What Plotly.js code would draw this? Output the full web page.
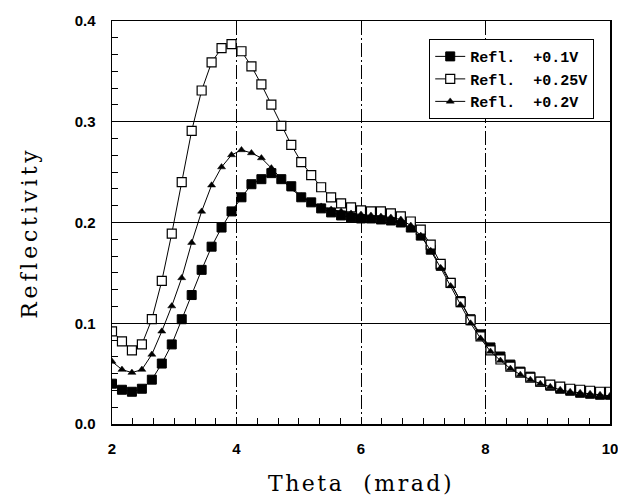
<!DOCTYPE html>
<html>
<head>
<meta charset="utf-8">
<script src="https://cdn.plot.ly/plotly-3.0.1.min.js"></script>
<style>
  body { margin: 0; background: #fff; }
  #chart { width: 618px; height: 496px; }
  .g-xtitle text { letter-spacing: 2.5px; }
  .annotation-text { letter-spacing: 3.8px; }
</style>
</head>
<body>
<div id="chart"></div>
<script>
// Theta (mrad) sample positions, 51 points from 2 to 10
const theta = [2.00,2.16,2.32,2.48,2.64,2.80,2.96,3.12,3.28,3.44,
               3.60,3.76,3.92,4.08,4.24,4.40,4.56,4.72,4.88,5.04,
               5.20,5.36,5.52,5.68,5.84,6.00,6.16,6.32,6.48,6.64,
               6.80,6.96,7.12,7.28,7.44,7.60,7.76,7.92,8.08,8.24,
               8.40,8.56,8.72,8.88,9.04,9.20,9.36,9.52,9.68,9.84,10.00];

// Refl. +0.1V (filled squares)
const refl01 = [0.040,0.034,0.032,0.035,0.044,0.060,0.079,0.104,0.128,0.153,
                0.176,0.195,0.211,0.225,0.238,0.243,0.249,0.243,0.236,0.225,
                0.220,0.214,0.210,0.207,0.205,0.204,0.204,0.203,0.202,0.200,
                0.195,0.187,0.173,0.157,0.140,0.122,0.104,0.089,0.076,0.067,
                0.059,0.052,0.047,0.042,0.038,0.035,0.033,0.031,0.030,0.029,0.029];

// Refl. +0.25V (open squares)
const refl025 = [0.092,0.082,0.073,0.079,0.104,0.142,0.189,0.240,0.291,0.331,
                 0.359,0.373,0.377,0.370,0.355,0.337,0.317,0.296,0.277,0.260,
                 0.247,0.235,0.225,0.219,0.215,0.212,0.211,0.211,0.209,0.206,
                 0.201,0.193,0.178,0.159,0.140,0.121,0.103,0.087,0.073,0.064,
                 0.057,0.051,0.046,0.042,0.039,0.037,0.035,0.034,0.033,0.032,0.032];

// Refl. +0.2V (triangles)
const refl02 = [0.062,0.054,0.051,0.054,0.069,0.092,0.117,0.145,0.180,0.211,
                0.237,0.255,0.267,0.272,0.269,0.264,0.254,0.243,0.233,0.226,
                0.220,0.216,0.213,0.211,0.209,0.208,0.207,0.206,0.205,0.203,
                0.197,0.187,0.172,0.155,0.137,0.118,0.100,0.085,0.072,0.063,
                0.055,0.049,0.044,0.040,0.037,0.034,0.032,0.031,0.030,0.029,0.028];

const seriesNames = ['Refl.\u00a0\u00a0+0.1V', 'Refl.\u00a0\u00a0+0.25V', 'Refl.\u00a0\u00a0+0.2V'];
const xTicks = [2, 4, 6, 8, 10];
const yTicks = [0.0, 0.1, 0.2, 0.3, 0.4];
const xTitle = 'Theta\u00a0\u00a0(mrad)';
const yTitle = 'Reflectivity';

const lineStyle = {color: '#000', width: 1};

const traces = [
  {x: theta, y: refl01, name: seriesNames[0], mode: 'lines+markers', type: 'scatter',
   line: lineStyle,
   marker: {symbol: 'square', size: 9, color: '#000', line: {color: '#000', width: 1}}},
  {x: theta, y: refl025, name: seriesNames[1], mode: 'lines+markers', type: 'scatter',
   line: lineStyle,
   marker: {symbol: 'square', size: 9, color: '#fff', line: {color: '#000', width: 1.2}}},
  {x: theta, y: refl02, name: seriesNames[2], mode: 'lines+markers', type: 'scatter',
   line: lineStyle,
   marker: {symbol: 'triangle-up', size: 7, color: '#000', line: {color: '#000', width: 0.5}}}
];

const tickFont = {family: '"Liberation Sans", Arial, sans-serif', size: 15, color: '#000', weight: 'bold'};
const titleFont = {family: '"DejaVu Serif", "Liberation Serif", serif', size: 22, color: '#000'};

const layout = {
  width: 618, height: 496,
  margin: {l: 112, r: 8, t: 21, b: 72},
  paper_bgcolor: '#fff', plot_bgcolor: '#fff',
  showlegend: true,
  legend: {
    x: 0.637, y: 0.955, xanchor: 'left', yanchor: 'top',
    bgcolor: '#fff', bordercolor: '#000', borderwidth: 1,
    font: {family: '"Liberation Mono", "DejaVu Sans Mono", monospace', size: 15, color: '#000', weight: 'bold'},
    tracegroupgap: 0, itemwidth: 30
  },
  xaxis: {
    range: [2, 10], tickvals: xTicks, ticktext: xTicks.map(String),
    showline: true, mirror: true, linecolor: '#000', linewidth: 1.5,
    showgrid: true, gridcolor: '#000', gridwidth: 1, griddash: '14px,3px,2px,3px',
    zeroline: false,
    ticks: 'inside', ticklen: 6, tickcolor: '#000',
    minor: {dtick: 1/3, tick0: 2, ticks: 'inside', ticklen: 6, tickcolor: '#000', showgrid: false},
    tickfont: tickFont, ticklabelstandoff: 10, ticklabeloverflow: 'allow',
    title: {text: xTitle, font: titleFont, standoff: 20}
  },
  yaxis: {
    range: [0, 0.4], tickvals: yTicks, ticktext: yTicks.map(v => v.toFixed(1)),
    showline: true, mirror: true, linecolor: '#000', linewidth: 1.5,
    showgrid: true, gridcolor: '#000', gridwidth: 1,
    zeroline: false,
    ticks: 'inside', ticklen: 6, tickcolor: '#000',
    minor: {dtick: 0.1/6, tick0: 0, ticks: 'inside', ticklen: 6, tickcolor: '#000', showgrid: false},
    tickfont: tickFont, ticklabelstandoff: 12
  },
  annotations: [{
    text: yTitle, xref: 'paper', yref: 'paper', x: -0.165, y: 0.474,
    xanchor: 'center', yanchor: 'middle', textangle: -90, showarrow: false,
    font: titleFont
  }]
};

Plotly.newPlot('chart', traces, layout, {staticPlot: true, displayModeBar: false});
</script>
</body>
</html>
